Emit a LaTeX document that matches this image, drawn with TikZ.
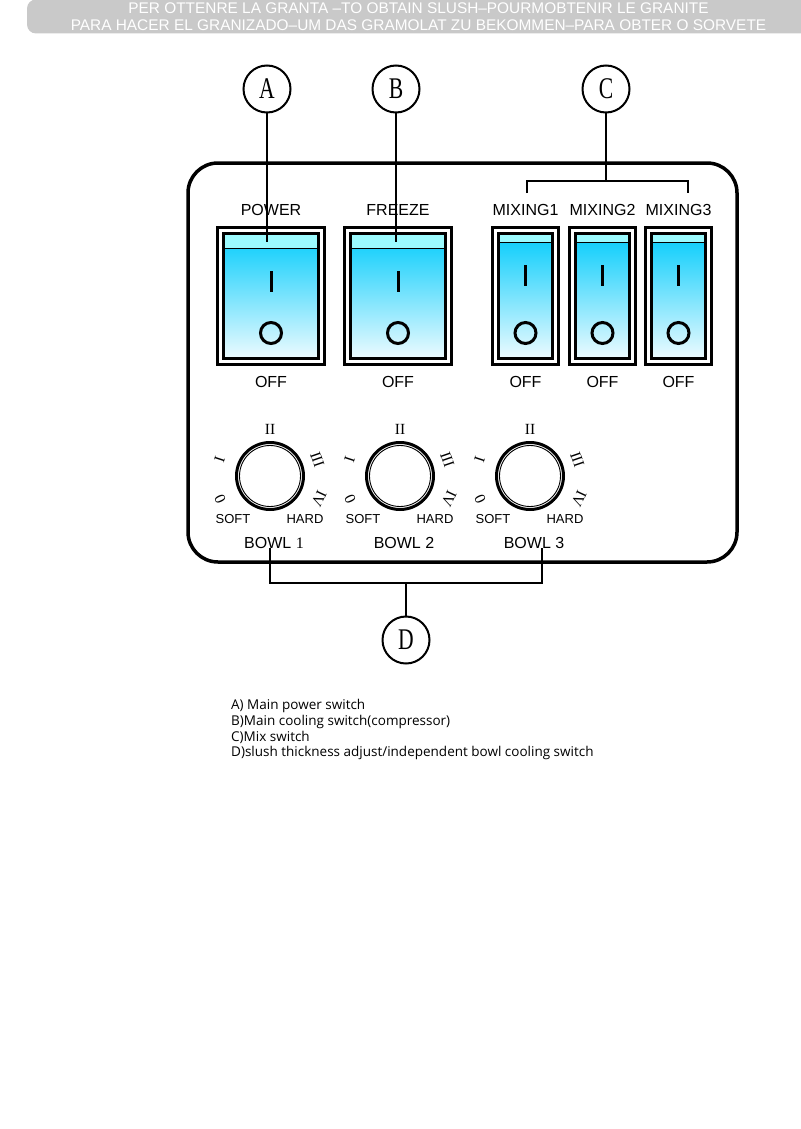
\documentclass[tikz,border=0pt]{standalone}
\usepackage{fontspec}
\setmainfont{Liberation Sans}
\newfontfamily\tagfont{Liberation Serif}[FakeStretch=0.72]
\newfontfamily\numfont{Liberation Serif}
\newfontfamily\notefont{Open Sans}
\usetikzlibrary{positioning}
\definecolor{barGray}{HTML}{C9C9C9}
\definecolor{stripCyan}{HTML}{9CFBFF}
\definecolor{rockerBlue}{HTML}{00CBFB}
\definecolor{rockerPale}{HTML}{F2FCFF}

\begin{document}
\begin{tikzpicture}[
x=1pt, y=-1pt,
font=\fontsize{16}{18}\selectfont,
banner/.style={fill=barGray, rounded corners=9pt, minimum width=783pt, minimum height=34pt, inner sep=0pt, align=center, text=white, font=\fontsize{15.4}{16.8}\selectfont},
tag/.style={circle, draw, line width=2pt, minimum size=47pt, inner sep=0pt, font=\tagfont\fontsize{30}{30}\selectfont},
lead/.style={line width=2pt},
panel/.style={draw, line width=3.5pt, rounded corners=30pt, minimum width=549pt, minimum height=399pt},
rocker/.style={draw, line width=3.2pt, double=white, double distance=3pt, top color=rockerBlue, bottom color=rockerPale, minimum height=130.6pt, inner sep=0pt},
strip/.style={path picture={
  \fill[stripCyan] (path picture bounding box.north west) rectangle ([yshift=-#1]path picture bounding box.north east);
  \draw[line width=1pt] ([yshift=-#1]path picture bounding box.north west) -- ([yshift=-#1]path picture bounding box.north east);}},
glyph/.style={line width=3pt},
caption/.style={inner sep=0pt, font=\fontsize{16}{18}\selectfont},
knob/.style={circle, draw, line width=3pt, minimum size=67pt, inner sep=0pt, fill=white},
numeral/.style={inner sep=0pt, font=\numfont\fontsize{15.5}{15.5}\selectfont},
small/.style={inner sep=0pt, font=\fontsize{13}{15}\selectfont},
note/.style={inner sep=0pt, align=left, font=\notefont\fontsize{13.5}{15.6}\selectfont}
]
\useasboundingbox (0,0) rectangle (800,1129);

% heading bar
\node[banner] (banner) at (418.5,16.5) {PER OTTENRE LA GRANTA --TO OBTAIN SLUSH--POURMOBTENIR LE GRANITE\\PARA HACER EL GRANIZADO--UM DAS GRAMOLAT ZU BEKOMMEN--PARA OBTER O SORVETE};

% control panel
\node[panel] (panel) at (462.5,362.5) {};

% main switches
\node[rocker, strip=18pt, minimum width=100.6pt] (power) at (271,296) {};
\node[rocker, strip=18pt, minimum width=100.6pt] (freeze) at (398,296) {};
\draw[glyph] ([yshift=25pt]power.center) -- ([yshift=4pt]power.center);
\draw[glyph] ([yshift=-37pt]power.center) circle (10.5pt);
\draw[glyph] ([yshift=25pt]freeze.center) -- ([yshift=4pt]freeze.center);
\draw[glyph] ([yshift=-37pt]freeze.center) circle (10.5pt);
\node[caption, above=13pt of power] (powerlbl) {POWER};
\node[caption, above=13pt of freeze] (freezelbl) {FREEZE};
\node[caption, below=13pt of power] (poweroff) {OFF};
\node[caption, below=13pt of freeze] (freezeoff) {OFF};

% mixing switches
\foreach \m/\x in {1/525.5,2/602.5,3/678.5} {
  \node[rocker, strip=12pt, minimum width=59.6pt] (mix\m) at (\x,296) {};
  \draw[glyph] ([yshift=31pt]mix\m.center) -- ([yshift=10pt]mix\m.center);
  \draw[glyph] ([yshift=-37pt]mix\m.center) circle (10.5pt);
  \node[caption, above=13pt of mix\m] (mix\m lbl) {MIXING\m};
  \node[caption, below=13pt of mix\m] (mix\m off) {OFF};
}

% thickness knobs
\foreach \k/\x/\bowl in {1/270/{BOWL {\numfont 1}},2/400/BOWL 2,3/530/BOWL 3} {
  \node[knob] (knob\k) at (\x,476) {};
  \draw[line width=0.9pt] (knob\k.center) circle (30.5pt);
  \foreach \ang/\rad/\num in {90/47/II,162/53/I,205/55/0,19/50/III,-25/54/IV}
    \node[numeral, rotate=\ang-90] (dial\k\num) at ([shift={(\ang:\rad pt)}]knob\k.center) {\num};
  \node[small] (soft\k) at (\x-37,519) {SOFT};
  \node[small] (hard\k) at (\x+35,519) {HARD};
  \node[caption] (bowl\k) at (\x+4,543) {\bowl};
}

% callouts
\node[tag] (tagA) at (267,89) {A};
\node[tag] (tagB) at (396,89) {B};
\node[tag] (tagC) at (606,89) {C};
\node[tag] (tagD) at (406,640) {D};
\coordinate (powerTop) at (267,242);
\coordinate (freezeTop) at (396,242);
\coordinate (mixL) at (527,193);
\coordinate (mixJoin) at (606,181);
\coordinate (mixR) at (688,193);
\coordinate (bowlL) at (270,548);
\coordinate (bowlJoin) at (406,583);
\coordinate (bowlR) at (542,548);
\draw[lead] (tagA) -- (powerTop);
\draw[lead] (tagB) -- (freezeTop);
\draw[lead] (tagC) -- (mixJoin);
\draw[lead] (mixL) |- (mixJoin) -| (mixR);
\draw[lead] (bowlL) |- (bowlJoin) -| (bowlR);
\draw[lead] (bowlJoin) -- (tagD);

% legend
\node[note, anchor=north west] (legend) at (231,699.5) {A) Main power switch\\B)Main cooling switch(compressor)\\C)Mix switch\\D)slush thickness adjust/independent bowl cooling switch};
\end{tikzpicture}
\end{document}
